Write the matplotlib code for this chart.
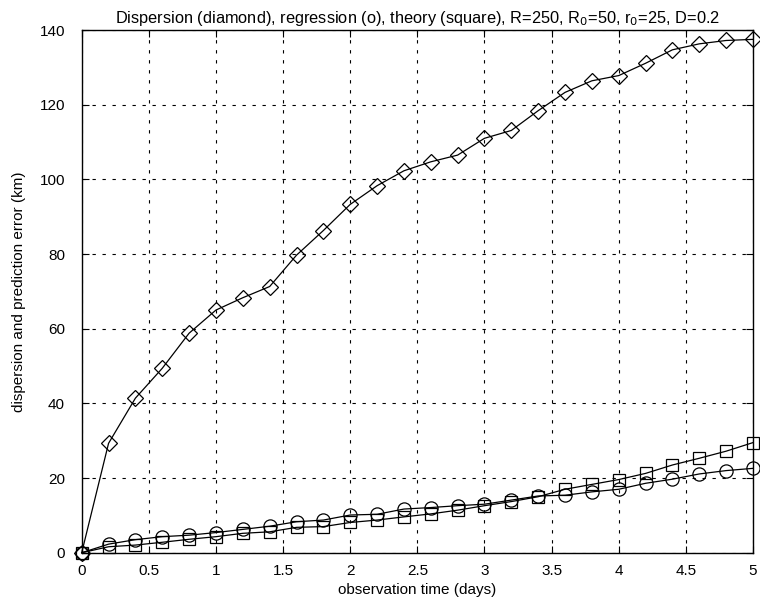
import matplotlib
matplotlib.use("Agg")
import matplotlib.pyplot as plt

plt.rcParams['font.family'] = ['Liberation Sans', 'DejaVu Sans']

t = [0.0, 0.2, 0.4, 0.6, 0.8, 1.0, 1.2, 1.4, 1.6, 1.8, 2.0, 2.2, 2.4, 2.6, 2.8,
     3.0, 3.2, 3.4, 3.6, 3.8, 4.0, 4.2, 4.4, 4.6, 4.8, 5.0]
dispersion = [0.0, 29.3, 41.4, 49.4, 58.8, 65.0, 68.3, 71.3, 79.7, 86.3, 93.3, 98.3,
              102.3, 104.7, 106.5, 111.0, 113.1, 118.4, 123.3, 126.4, 127.8, 131.1,
              134.7, 136.3, 137.2, 137.5]
regression = [0.0, 2.3, 3.5, 4.3, 4.7, 5.4, 6.25, 7.1, 8.3, 8.75, 10.1, 10.3, 11.7,
              12.1, 12.6, 13.0, 14.1, 15.2, 15.4, 16.3, 17.0, 18.6, 19.7, 21.1, 22.0, 22.6]
theory = [0.0, 1.6, 2.05, 2.8, 3.6, 4.3, 5.2, 5.6, 6.8, 7.0, 8.1, 8.75, 9.6, 10.4,
          11.4, 12.6, 13.7, 15.0, 17.0, 18.3, 19.6, 21.25, 23.5, 25.3, 27.2, 29.5]

xticks = [0, 0.5, 1, 1.5, 2, 2.5, 3, 3.5, 4, 4.5, 5]
xticklabels = ['0', '0.5', '1', '1.5', '2', '2.5', '3', '3.5', '4', '4.5', '5']
yticks = [0, 20, 40, 60, 80, 100, 120, 140]

fig = plt.figure(figsize=(7.6, 6.09), dpi=100)
ax = fig.add_axes([0.1075, 0.0924, 0.8833, 0.8583])

common = dict(color='black', lw=0.9, mfc='none', mec='black', mew=0.9, clip_on=False, zorder=3)
ax.plot(t, dispersion, marker='D', ms=8.5, **common)
ax.plot(t, regression, marker='o', ms=9.5, **common)
ax.plot(t, theory, marker='s', ms=9, **common)

ax.set_xlim(0, 5)
ax.set_ylim(0, 140)
ax.set_xticks(xticks)
ax.set_xticklabels(xticklabels)
ax.set_yticks(yticks)
ax.tick_params(direction='in', top=True, right=True, labelsize=11, length=5, width=0.8)
ax.tick_params(axis='y', pad=12)
ax.tick_params(axis='x', pad=8)
ax.grid(True, color='black', linestyle=(0, (3, 6)), linewidth=0.8)
for s in ax.spines.values():
    s.set_linewidth(1.0)

ax.set_xlabel('observation time (days)', fontsize=11, labelpad=4)
ax.set_ylabel('dispersion and prediction error (km)', fontsize=11, labelpad=10)
ax.set_title(r'Dispersion (diamond), regression (o), theory (square), R=250, R$_0$=50, r$_0$=25, D=0.2',
             fontsize=11.8, pad=5)

fig.savefig('out.png', dpi=100)
